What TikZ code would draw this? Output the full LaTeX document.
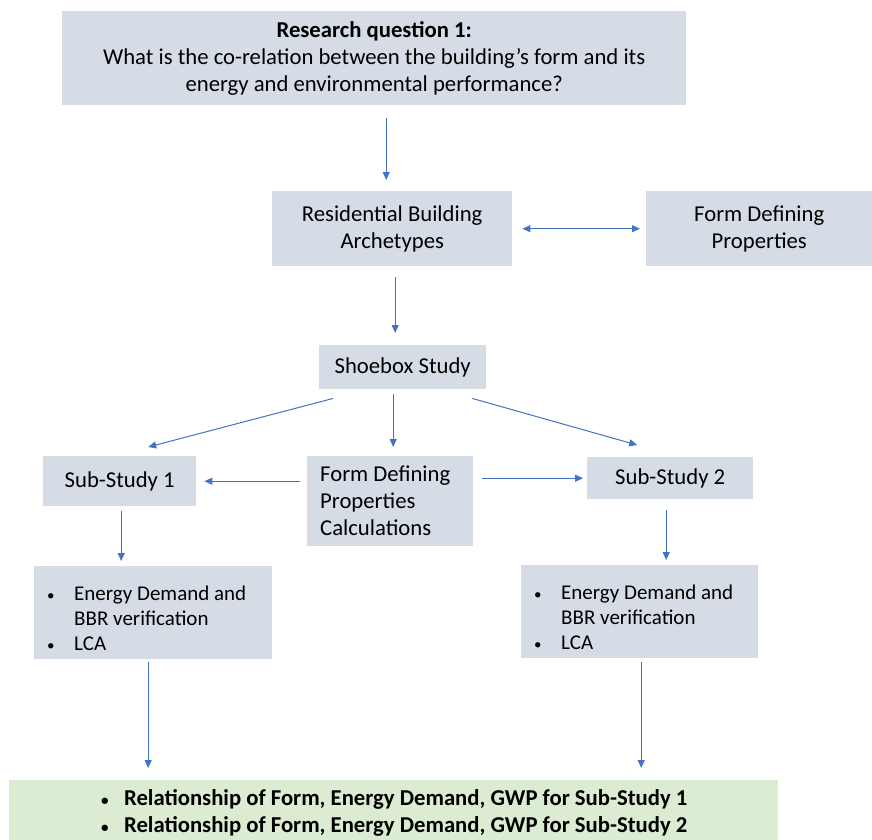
\documentclass[tikz,border=0pt]{standalone}
\usepackage{fontspec}
\setmainfont{Carlito}
\usetikzlibrary{arrows.meta,calc}
\definecolor{boxgray}{HTML}{D6DCE5}
\definecolor{boxgreen}{HTML}{DCECD2}
\definecolor{arrblue}{HTML}{4472C4}
\newcommand{\bul}[1]{\makebox[#1][l]{\hspace*{1pt}{\fontsize{15}{15}\selectfont\textbullet}}}
\newcommand{\nsp}{\spaceskip=0pt\xspaceskip=0pt\relax}
\begin{document}
\begin{tikzpicture}[x=1pt,y=-1pt,
  >={Triangle[width=7pt,length=8pt]},
  box/.style={fill=boxgray, inner sep=0pt, anchor=north west, align=center,
    font=\fontsize{22.7}{27}\selectfont},
  ebox/.style={box, minimum height=93pt, align=left, inner xsep=12pt,
    font=\fontsize{21}{25}\selectfont},
  arr/.style={draw=arrblue, line width=1pt, ->}]
\useasboundingbox (0,0) rectangle (872,839);
\node[box, minimum width=624pt, minimum height=94pt] (rq) at (62,11)
  {\textbf{Research question 1:}\\What is the co-relation between the building’s form and its\\energy and environmental performance?};
\node[box, minimum width=240pt, minimum height=75pt] (res) at (272,191) {Residential Building\\Archetypes};
\node[box, minimum width=226pt, minimum height=75pt] (fdp) at (646,191) {Form Defining\\Properties};
\node[box, minimum width=167pt, minimum height=44pt] (shoe) at (319,345) {Shoebox Study};
\node[box, minimum width=153pt, minimum height=50pt] (ss1) at (43,456) {Sub-Study 1};
\node[box, minimum width=166pt, minimum height=90pt, align=left, text width=140pt, inner xsep=13pt] (fdpc) at (307,456)
  {\nsp Form Defining\\Properties\\Calculations};
\node[box, minimum width=166pt, minimum height=42pt] (ss2) at (587,457) {Sub-Study 2};
\node[ebox, minimum width=238pt, text width=214pt] (e1) at (34,566)
  {\nsp\rule{0pt}{26pt}\bul{28pt}Energy Demand and\\\hspace*{28pt}BBR verification\\\bul{28pt}LCA};
\node[ebox, minimum width=237pt, text width=213pt] (e2) at (521,565)
  {\nsp\rule{0pt}{25pt}\bul{28pt}Energy Demand and\\\hspace*{28pt}BBR verification\\\bul{28pt}LCA};
\node[box, fill=boxgreen, minimum width=769pt, minimum height=66pt, align=left,
  font=\fontsize{22.7}{27}\selectfont\bfseries] (gr) at (9,780)
  {\bul{24pt}Relationship of Form, Energy Demand, GWP for Sub-Study 1\\\bul{24pt}Relationship of Form, Energy Demand, GWP for Sub-Study 2};
% connectors
\draw[arr, shorten <=13pt, shorten >=11pt] ([xshift=12pt]rq.south) -- ([xshift=-6pt]res.north);
\draw[arr, <->, shorten <=10pt, shorten >=6pt] (res.east) -- (fdp.west);
\draw[arr, shorten <=11pt, shorten >=12pt] ([xshift=3pt]res.south) -- ([xshift=-7.5pt]shoe.north);
\draw[arr] ([shift={(-69.5pt,-9pt)}]shoe.south) -- ([shift={(28.5pt,9pt)}]ss1.north);
\draw[arr] ([shift={(-9.5pt,-5pt)}]shoe.south) -- ([shift={(3pt,9pt)}]fdpc.north);
\draw[arr] ([shift={(69.5pt,-9pt)}]shoe.south) -- ([shift={(-33pt,12pt)}]ss2.north);
\draw[arr, shorten <=7pt, shorten >=8pt] (fdpc.west |- ss1.east) -- (ss1.east);
\draw[arr, shorten <=9pt, shorten >=4pt] (fdpc.east |- ss2.west) -- (ss2.west);
\draw[arr, shorten <=5pt, shorten >=5pt] ($(ss1.south)+(1.5pt,0)$) -- ($(ss1.south |- e1.north)+(1.5pt,0)$);
\draw[arr, shorten <=11pt, shorten >=5pt] ($(ss2.south)+(-4pt,0)$) -- ($(ss2.south |- e2.north)+(-4pt,0)$);
\draw[arr, shorten <=3pt, shorten >=12pt] ($(e1.south)+(-5pt,0)$) -- ($(e1.south |- gr.north)+(-5pt,0)$);
\draw[arr, shorten <=4pt, shorten >=12pt] ($(e2.south)+(1.5pt,0)$) -- ($(e2.south |- gr.north)+(1.5pt,0)$);
\end{tikzpicture}
\end{document}
